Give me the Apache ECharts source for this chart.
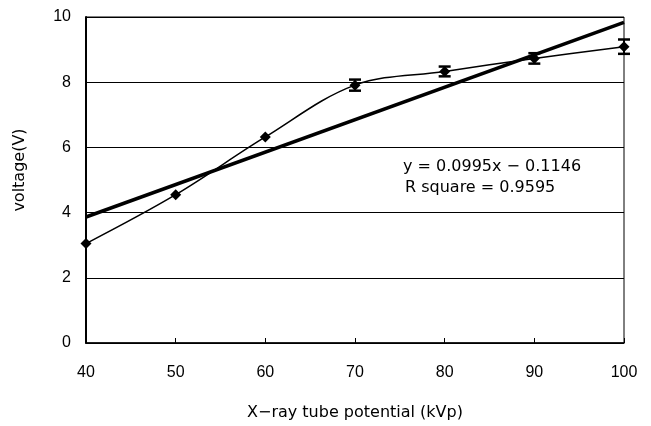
<!DOCTYPE html>
<html>
<head>
<meta charset="utf-8">
<script src="https://cdn.jsdelivr.net/npm/echarts@6/dist/echarts.min.js"></script>
<style>html,body{margin:0;padding:0;background:#fff}#c{width:651px;height:426px}</style>
</head>
<body>
<div id="c"></div>
<script>
const kvp = [40, 50, 60, 70, 80, 90, 100];
const voltage = [3.05, 4.55, 6.32, 7.91, 8.33, 8.73, 9.09];
const errBar = [0, 0, 0, 0.17, 0.15, 0.16, 0.22];
const trendX = [40, 100];
const trendY = [3.865, 9.835];
const eqText = 'y = 0.0995x \u2212 0.1146';
const r2Text = 'R square = 0.9595';
const xTitle = 'X\u2212ray tube potential (kVp)';
const yTitle = 'voltage(V)';

const font = 'Liberation Sans, Arial, sans-serif';
const wideFont = 'DejaVu Sans, sans-serif';
const chart = echarts.init(document.getElementById('c'), null, {renderer: 'canvas'});
chart.setOption({
  animation: false,
  backgroundColor: '#fff',
  grid: {left: 86, right: 27, top: 17, bottom: 83, show: true, borderColor: '#000', borderWidth: 1},
  xAxis: {
    type: 'value', min: 40, max: 100, interval: 10,
    name: xTitle, nameLocation: 'middle', nameGap: 62,
    nameTextStyle: {color: '#000', fontSize: 16, fontFamily: wideFont},
    axisLine: {show: true, lineStyle: {color: '#000', width: 1.5}},
    axisTick: {show: true, inside: true, length: 5, lineStyle: {color: '#000'}},
    axisLabel: {color: '#000', fontSize: 16, fontFamily: font, margin: 22},
    splitLine: {show: false}
  },
  yAxis: {
    type: 'value', min: 0, max: 10, interval: 2,
    axisLine: {show: true, lineStyle: {color: '#000', width: 2}},
    axisTick: {show: false},
    axisLabel: {color: '#000', fontSize: 16, fontFamily: font, margin: 15},
    splitLine: {show: true, lineStyle: {color: '#000', width: 1}}
  },
  series: [
    {
      type: 'line', data: trendX.map((x, i) => [x, trendY[i]]),
      symbol: 'none', lineStyle: {color: '#000', width: 3.5}, z: 3
    },
    {
      type: 'line', data: kvp.map((x, i) => [x, voltage[i]]),
      smooth: 0.35, symbol: 'diamond', symbolSize: 11,
      itemStyle: {color: '#000'}, lineStyle: {color: '#000', width: 1.5}, z: 4
    },
    {
      type: 'custom', z: 5,
      data: kvp.map((x, i) => [x, voltage[i] - errBar[i], voltage[i] + errBar[i]]),
      renderItem: function (params, api) {
        if (api.value(2) - api.value(1) <= 0) return null;
        const lo = api.coord([api.value(0), api.value(1)]);
        const hi = api.coord([api.value(0), api.value(2)]);
        const w = 6;
        const st = {stroke: '#000', lineWidth: 2.5};
        return {type: 'group', children: [
          {type: 'line', shape: {x1: lo[0], y1: lo[1], x2: hi[0], y2: hi[1]}, style: {stroke: '#000', lineWidth: 2}},
          {type: 'line', shape: {x1: lo[0] - w, y1: lo[1], x2: lo[0] + w, y2: lo[1]}, style: st},
          {type: 'line', shape: {x1: hi[0] - w, y1: hi[1], x2: hi[0] + w, y2: hi[1]}, style: st}
        ]};
      }
    }
  ],
  graphic: [
    {type: 'text', x: 403, y: 167, style: {text: eqText, fill: '#000', font: '16px ' + wideFont, verticalAlign: 'middle'}},
    {type: 'text', x: 405, y: 188, style: {text: r2Text, fill: '#000', font: '16px ' + wideFont, verticalAlign: 'middle'}},
    {type: 'text', x: 20, y: 170, rotation: Math.PI / 2,
     style: {text: yTitle, fill: '#000', font: '16px ' + wideFont, align: 'center', verticalAlign: 'middle'}}
  ]
});
</script>
</body>
</html>
